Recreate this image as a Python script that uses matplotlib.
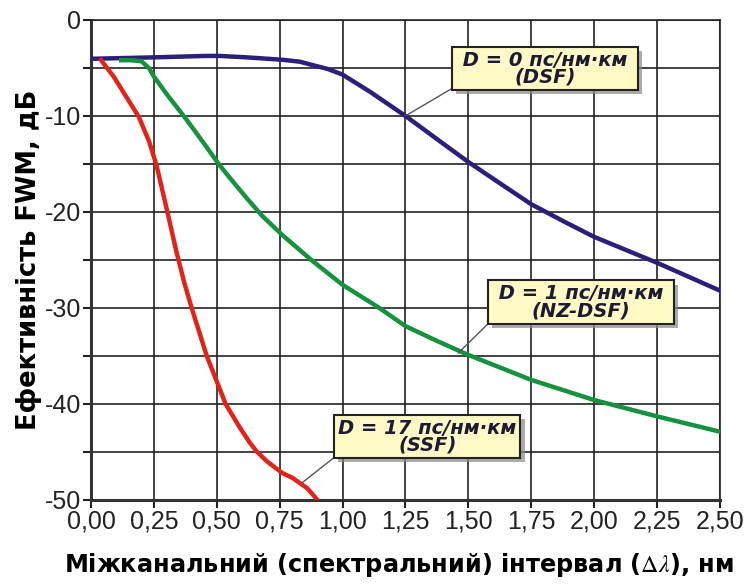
import matplotlib.pyplot as plt
import matplotlib.patheffects as pe
import numpy as np

plt.rcParams['font.family'] = ['Liberation Sans', 'DejaVu Sans']
plt.rcParams['mathtext.fontset'] = 'stix'

# D = 0 ps/(nm*km), DSF
dsf_x = [0.00, 0.25, 0.46, 0.51, 0.62, 0.76, 0.83, 0.88, 0.94, 1.00, 1.11,
         1.25, 1.39, 1.50, 1.63, 1.75, 1.88, 2.00, 2.25, 2.50]
dsf_y = [-4.05, -3.9, -3.75, -3.75, -3.9, -4.15, -4.35, -4.7, -5.1, -5.7, -7.5,
         -10.0, -12.7, -14.8, -17.1, -19.2, -21.0, -22.6, -25.3, -28.2]

# D = 1 ps/(nm*km), NZ-DSF
nz_x = [0.12, 0.16, 0.20, 0.23, 0.25, 0.30, 0.38, 0.45, 0.51, 0.55, 0.62, 0.68,
        0.76, 0.88, 1.00, 1.14, 1.25, 1.38, 1.50, 1.75, 2.00, 2.25, 2.50]
nz_y = [-4.2, -4.2, -4.3, -5.0, -5.9, -7.7, -10.4, -12.9, -15.1, -16.4, -18.6, -20.4,
        -22.4, -25.1, -27.6, -29.9, -31.9, -33.5, -34.9, -37.5, -39.6, -41.3, -42.9]

# D = 17 ps/(nm*km), SSF
ssf_x = [0.04, 0.09, 0.14, 0.19, 0.23, 0.26, 0.30, 0.34, 0.37, 0.40, 0.46, 0.535,
         0.59, 0.63, 0.66, 0.70, 0.76, 0.80, 0.86, 0.90]
ssf_y = [-4.2, -5.9, -8.0, -10.1, -12.6, -15.1, -19.6, -24.2, -27.3, -30.0, -35.0, -40.0,
         -42.4, -44.0, -45.0, -46.0, -47.2, -47.7, -48.8, -50.0]

x_ticks = np.arange(0, 2.51, 0.25)
x_labels = ['0,00', '0,25', '0,50', '0,75', '1,00', '1,25', '1,50', '1,75',
            '2,00', '2,25', '2,50']
y_labels = ['0', '-10', '-20', '-30', '-40', '-50']

fig = plt.figure(figsize=(7.46, 5.86), dpi=100)
ax = fig.add_axes([0.122, 0.147, 0.843, 0.819])

ax.plot(dsf_x, dsf_y, color='#2a1f7c', lw=3.2, zorder=3, solid_joinstyle='round')
ax.plot(nz_x, nz_y, color='#14923e', lw=3.2, zorder=3, solid_joinstyle='round')
ax.plot(ssf_x, ssf_y, color='#e2231a', lw=3.2, zorder=3, solid_joinstyle='round')

ax.set_xlim(0, 2.5)
ax.set_ylim(-50, 0)
ax.set_xticks(x_ticks)
ax.set_xticklabels(x_labels)
ax.set_yticks(np.arange(-50, 1, 5), minor=True)
ax.set_yticks([0, -10, -20, -30, -40, -50])
ax.set_yticklabels(y_labels)
ax.grid(True, which='both', color='#222222', lw=1.2)
ax.set_axisbelow(True)

for side in ['top', 'right']:
    ax.spines[side].set_linewidth(1.2)
    ax.spines[side].set_color('#222222')
for side in ['left', 'bottom']:
    ax.spines[side].set_linewidth(2.2)
    ax.spines[side].set_color('#333333')

ax.tick_params(axis='both', which='both', direction='out', length=6, width=1.5,
               color='#222222', labelsize=18, labelcolor='#222222', pad=1)

ax.set_ylabel('Ефективність FWM, дБ', family='DejaVu Sans', fontsize=18.5,
              fontweight='bold', labelpad=2)
ax.set_xlabel(r'Міжканальний (спектральний) інтервал ($\Delta\lambda$), нм',
              family='DejaVu Sans', fontsize=17.3, fontweight='bold')
ax.xaxis.set_label_coords(0.49, -0.107)

box_style = dict(boxstyle='square,pad=0.2', fc='#fff9c6', ec='#222222', lw=1.5)
leader = dict(arrowstyle='-', color='#555555', lw=1.0, relpos=(0, 0),
              shrinkA=0, shrinkB=0)
shadow = [pe.withSimplePatchShadow(offset=(3, -3), shadow_rgbFace='#888888', alpha=0.7)]

notes = [
    (' D = 0 пс/нм·км \n(DSF)', (1.25, -10.0), (1.804, -5.05)),
    (' D = 1 пс/нм·км \n(NZ-DSF)', (1.46, -34.7), (1.948, -29.4)),
    ('D = 17 пс/нм·км\n(SSF)', (0.84, -48.2), (1.337, -43.4)),
]
for text, xy, xytext in notes:
    ann = ax.annotate(text, xy=xy, xytext=xytext, ha='center', va='center',
                      family='DejaVu Sans', fontsize=14, fontweight='bold',
                      fontstyle='italic', color='#1b1b33', linespacing=0.85,
                      bbox=box_style, arrowprops=leader, zorder=5)
    ann.get_bbox_patch().set_path_effects(shadow)

fig.savefig('out.png', dpi=100)
